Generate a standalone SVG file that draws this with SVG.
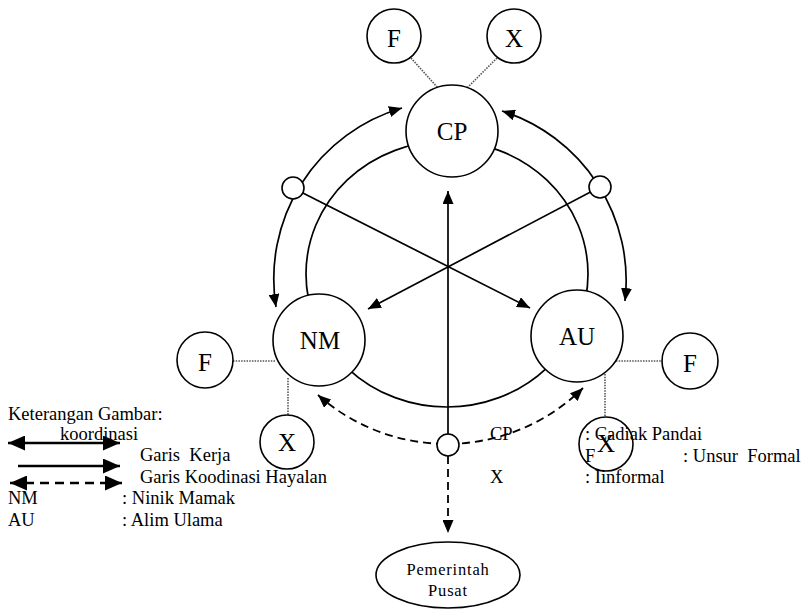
<svg xmlns="http://www.w3.org/2000/svg" width="802" height="611" viewBox="0 0 802 611">
<style>
text{font-family:"Liberation Serif","Times New Roman",serif;fill:#000;white-space:pre}
.node{fill:#fff;stroke:#000;stroke-width:1.6}
.lbl{font-size:25px;text-anchor:middle}
.leg{font-size:18.5px}
.ln{fill:none;stroke:#000;stroke-width:1.7}
.dash{fill:none;stroke:#000;stroke-width:1.8;stroke-dasharray:8 5}
.dot{fill:none;stroke:#555;stroke-width:1.6;stroke-dasharray:1.5 1.2}
</style>
<defs>
<marker id="ah" markerUnits="userSpaceOnUse" markerWidth="13" markerHeight="11" refX="13" refY="5.5" orient="auto-start-reverse"><path d="M0,0 L13,5.5 L0,11 z" fill="#000"/></marker>
<marker id="ahL" markerUnits="userSpaceOnUse" markerWidth="17" markerHeight="15" refX="17" refY="7.5" orient="auto-start-reverse"><path d="M0,0 L17,7.5 L0,15 z" fill="#000"/></marker>
</defs>
<g id="big-circle"><ellipse cx="447" cy="274" rx="141" ry="133" class="ln"/></g>
<g id="connectors">
<path class="ln" d="M276,307 A178 178 0 0 1 402,108" marker-start="url(#ah)" marker-end="url(#ah)"/>
<path class="ln" d="M502,111 A178 178 0 0 1 625,301" marker-start="url(#ah)" marker-end="url(#ah)"/>
<line class="ln" x1="293" y1="188" x2="530" y2="308" marker-end="url(#ah)"/>
<line class="ln" x1="600" y1="187" x2="368" y2="309" marker-end="url(#ah)"/>
<line class="ln" x1="448" y1="445" x2="448" y2="191" marker-end="url(#ah)"/>
<path class="dash" d="M318,395 A194 194 0 0 0 583,388" marker-start="url(#ah)" marker-end="url(#ah)"/>
<line class="dash" x1="448" y1="456" x2="448" y2="533" marker-end="url(#ah)"/>
<line class="dot" x1="411" y1="58" x2="438" y2="88"/>
<line class="dot" x1="497" y1="58" x2="467" y2="88"/>
<line class="dot" x1="233" y1="361" x2="276" y2="361"/>
<line class="dot" x1="288" y1="378" x2="288" y2="415"/>
<line class="dot" x1="616" y1="361" x2="662" y2="361"/>
<line class="dot" x1="605" y1="374" x2="605" y2="417"/>
</g>
<g id="cp"><circle class="node" cx="452" cy="131" r="46"/><text class="lbl" x="452" y="140">CP</text></g>
<g id="cp-f"><circle class="node" cx="394" cy="36" r="27"/><text class="lbl" x="394" y="47">F</text></g>
<g id="cp-x"><circle class="node" cx="514" cy="36" r="27"/><text class="lbl" x="514" y="47">X</text></g>
<g id="nm"><circle class="node" cx="319" cy="340" r="46"/><text class="lbl" x="320" y="349">NM</text></g>
<g id="nm-f"><circle class="node" cx="205" cy="360" r="28"/><text class="lbl" x="205" y="371">F</text></g>
<g id="nm-x"><circle class="node" cx="287" cy="442" r="27"/><text class="lbl" x="287" y="451">X</text></g>
<g id="au"><circle class="node" cx="577" cy="336" r="46"/><text class="lbl" x="577" y="345">AU</text></g>
<g id="au-f"><circle class="node" cx="690" cy="361" r="28"/><text class="lbl" x="690" y="372">F</text></g>
<g id="au-x"><circle class="node" cx="606" cy="444" r="27"/><text class="lbl" x="606" y="452">X</text></g>
<g id="junction-left"><circle class="node" cx="293" cy="188" r="11"/></g>
<g id="junction-right"><circle class="node" cx="600" cy="187" r="11"/></g>
<g id="junction-bottom"><circle class="node" cx="448" cy="445" r="11"/></g>
<g id="pemerintah"><ellipse class="node" cx="448" cy="575" rx="72" ry="33"/>
<text x="448" y="575" style="font-size:16.5px;letter-spacing:0.8px" text-anchor="middle">Pemerintah</text>
<text x="448" y="596" style="font-size:16.5px;letter-spacing:0.8px" text-anchor="middle">Pusat</text></g>
<g id="legend">
<text class="leg" x="8" y="420">Keterangan Gambar:</text>
<text class="leg" x="60" y="440">koordinasi</text>
<line class="ln" x1="8" y1="443" x2="120" y2="443" style="stroke-width:2.4" marker-start="url(#ahL)" marker-end="url(#ahL)"/>
<text class="leg" x="140" y="461">Garis  Kerja</text>
<line class="ln" x1="18" y1="466" x2="120" y2="466" style="stroke-width:2.4" marker-end="url(#ahL)"/>
<text class="leg" x="140" y="483">Garis Koodinasi Hayalan</text>
<line x1="10" y1="483" x2="122" y2="483" style="stroke:#000;stroke-width:2.4;stroke-dasharray:9 6" marker-start="url(#ahL)" marker-end="url(#ahL)"/>
<text class="leg" x="8" y="504">NM</text>
<text class="leg" x="122" y="504">: Ninik Mamak</text>
<text class="leg" x="8" y="526">AU</text>
<text class="leg" x="122" y="526">: Alim Ulama</text>
<text class="leg" x="490" y="440">CP</text>
<text class="leg" x="585" y="440">: Cadiak Pandai</text>
<text class="leg" x="585" y="462">F</text>
<text class="leg" x="683" y="462">: Unsur  Formal</text>
<text class="leg" x="490" y="483">X</text>
<text class="leg" x="585" y="483">: Iinformal</text>
</g>
</svg>
